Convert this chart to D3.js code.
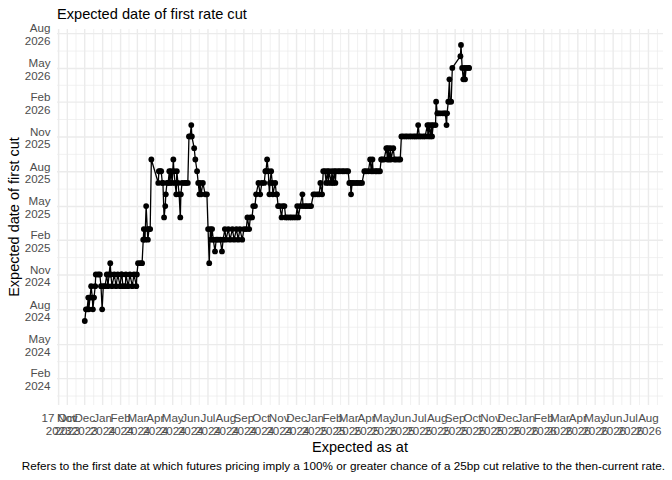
<!DOCTYPE html>
<html><head><meta charset="utf-8">
<script src="https://cdn.jsdelivr.net/npm/d3@7"></script>
<style>
body{margin:0;background:#fff}
svg{display:block}
text{font-family:"Liberation Sans",Arial,Helvetica,sans-serif}
</style>
</head><body>
<svg id="chart" width="672" height="480"></svg>
<script>
// ---- data ----
const asAt = [
"2023-12-02","2023-12-04","2023-12-06","2023-12-08","2023-12-09","2023-12-11","2023-12-13","2023-12-15","2023-12-16","2023-12-18",
"2023-12-20","2023-12-21","2023-12-25","2023-12-28","2023-12-30","2024-01-01","2024-01-03","2024-01-06","2024-01-09","2024-01-11",
"2024-01-13","2024-01-15","2024-01-16","2024-01-18","2024-01-22","2024-01-25","2024-01-28","2024-02-01","2024-02-03","2024-02-04",
"2024-02-06","2024-02-10","2024-02-11","2024-02-15","2024-02-18","2024-02-22","2024-02-25","2024-02-29","2024-03-01","2024-03-03",
"2024-03-07","2024-03-10","2024-03-12","2024-03-13","2024-03-15","2024-03-17","2024-03-19","2024-03-20","2024-03-22","2024-03-24",
"2024-03-26","2024-04-07","2024-04-08","2024-04-10","2024-04-12","2024-04-14","2024-04-15","2024-04-17","2024-04-19","2024-04-20",
"2024-04-22","2024-04-24","2024-04-26","2024-04-27","2024-04-29","2024-05-01","2024-05-03","2024-05-04","2024-05-06","2024-05-08",
"2024-05-09","2024-05-11","2024-05-13","2024-05-15","2024-05-16","2024-05-18","2024-05-22","2024-05-25","2024-05-28","2024-05-30",
"2024-06-01","2024-06-03","2024-06-04","2024-06-08","2024-06-10","2024-06-13","2024-06-15","2024-06-17","2024-06-18","2024-06-20",
"2024-06-23","2024-06-27","2024-06-30","2024-07-02","2024-07-04","2024-07-06","2024-07-07","2024-07-09","2024-07-11","2024-07-14",
"2024-07-16","2024-07-19","2024-07-23","2024-07-26","2024-07-28","2024-07-31","2024-08-02","2024-08-06","2024-08-09","2024-08-13",
"2024-08-16","2024-08-20","2024-08-23","2024-08-26","2024-08-30","2024-09-02","2024-09-06","2024-09-08","2024-09-11","2024-09-13",
"2024-09-16","2024-09-18","2024-09-21","2024-09-23","2024-09-27","2024-09-30","2024-10-03","2024-10-07","2024-10-09","2024-10-10",
"2024-10-12","2024-10-14","2024-10-16","2024-10-17","2024-10-19","2024-10-21","2024-10-22","2024-10-26","2024-10-28","2024-10-29",
"2024-10-31","2024-11-03","2024-11-06","2024-11-08","2024-11-11","2024-11-13","2024-11-16","2024-11-20","2024-11-23","2024-11-27",
"2024-12-01","2024-12-03","2024-12-05","2024-12-08","2024-12-12","2024-12-13","2024-12-17","2024-12-20","2024-12-24","2024-12-27",
"2024-12-31","2025-01-03","2025-01-07","2025-01-10","2025-01-12","2025-01-15","2025-01-17","2025-01-20","2025-01-22","2025-01-24",
"2025-01-26","2025-01-27","2025-01-31","2025-02-01","2025-02-03","2025-02-05","2025-02-07","2025-02-08","2025-02-12","2025-02-15",
"2025-02-19","2025-02-22","2025-02-26","2025-03-01","2025-03-03","2025-03-05","2025-03-06","2025-03-08","2025-03-11","2025-03-15",
"2025-03-18","2025-03-22","2025-03-25","2025-03-29","2025-04-01","2025-04-05","2025-04-08","2025-04-10","2025-04-12","2025-04-13",
"2025-04-17","2025-04-19","2025-04-22","2025-04-25","2025-04-27","2025-04-29","2025-05-02","2025-05-06","2025-05-08","2025-05-09",
"2025-05-11","2025-05-13","2025-05-14","2025-05-18","2025-05-20","2025-05-23","2025-05-27","2025-05-30","2025-06-01","2025-06-04",
"2025-06-08","2025-06-11","2025-06-15","2025-06-18","2025-06-22","2025-06-25","2025-06-28","2025-06-30","2025-07-02","2025-07-05",
"2025-07-09","2025-07-12","2025-07-16","2025-07-17","2025-07-19","2025-07-21","2025-07-23","2025-07-24","2025-07-26","2025-07-30",
"2025-07-31","2025-08-02","2025-08-04","2025-08-07","2025-08-11","2025-08-14","2025-08-16","2025-08-18","2025-08-19","2025-08-21",
"2025-08-23","2025-08-24","2025-08-26","2025-08-28","2025-09-11","2025-09-12","2025-09-14","2025-09-16","2025-09-18","2025-09-19",
"2025-09-21","2025-09-25","2025-09-26"
];
const expectedCut = [
"2024-07","2024-08","2024-08","2024-09","2024-08","2024-09","2024-10","2024-09","2024-08","2024-09",
"2024-10","2024-11","2024-11","2024-11","2024-10","2024-08","2024-10","2024-10","2024-11","2024-10",
"2024-11","2024-12","2024-11","2024-10","2024-11","2024-10","2024-11","2024-10","2024-11","2024-11",
"2024-10","2024-10","2024-11","2024-10","2024-11","2024-10","2024-11","2024-10","2024-11","2024-12",
"2024-12","2024-12","2025-02","2025-03","2025-02","2025-05","2025-03","2025-02","2025-03","2025-03",
"2025-09","2025-07","2025-08","2025-08","2025-08","2025-07","2025-07","2025-04","2025-05","2025-06",
"2025-07","2025-07","2025-08","2025-07","2025-08","2025-07","2025-09","2025-08","2025-07","2025-06",
"2025-08","2025-07","2025-06","2025-04","2025-06","2025-07","2025-07","2025-07","2025-07","2025-11",
"2025-11","2025-12","2025-11","2025-10","2025-09","2025-08","2025-07","2025-06","2025-07","2025-06",
"2025-07","2025-06","2025-06","2025-03","2024-12","2025-03","2025-02","2025-03","2025-02","2025-01",
"2025-02","2025-02","2025-02","2025-01","2025-02","2025-03","2025-02","2025-03","2025-02","2025-03",
"2025-02","2025-03","2025-02","2025-03","2025-02","2025-03","2025-03","2025-04","2025-03","2025-04",
"2025-04","2025-05","2025-05","2025-06","2025-07","2025-06","2025-07","2025-07","2025-08","2025-08",
"2025-09","2025-08","2025-06","2025-07","2025-08","2025-07","2025-06","2025-07","2025-06","2025-06",
"2025-05","2025-05","2025-04","2025-05","2025-05","2025-04","2025-04","2025-04","2025-04","2025-04",
"2025-04","2025-05","2025-04","2025-05","2025-06","2025-05","2025-05","2025-05","2025-05","2025-05",
"2025-06","2025-06","2025-06","2025-06","2025-07","2025-06","2025-08","2025-08","2025-07","2025-08",
"2025-07","2025-08","2025-07","2025-08","2025-07","2025-08","2025-07","2025-08","2025-08","2025-08",
"2025-08","2025-08","2025-08","2025-08","2025-07","2025-07","2025-06","2025-07","2025-07","2025-07",
"2025-07","2025-07","2025-07","2025-08","2025-08","2025-08","2025-09","2025-08","2025-09","2025-08",
"2025-08","2025-08","2025-08","2025-08","2025-09","2025-09","2025-09","2025-10","2025-09","2025-10",
"2025-09","2025-10","2025-09","2025-10","2025-09","2025-09","2025-09","2025-09","2025-11","2025-11",
"2025-11","2025-11","2025-11","2025-11","2025-11","2025-11","2025-11","2025-12","2025-11","2025-11",
"2025-11","2025-11","2025-12","2025-11","2025-12","2025-11","2025-12","2025-11","2025-12","2025-12",
"2026-02","2026-01","2026-01","2026-01","2026-01","2026-01","2026-01","2025-12","2026-01","2026-02",
"2026-04","2026-02","2026-02","2026-05","2026-06","2026-07","2026-05","2026-04","2026-05","2026-04",
"2026-05","2026-05","2026-05"
];
// axis tick values
const xTickDates = ["2023-10-17",
"2023-11-01","2023-12-01","2024-01-01","2024-02-01","2024-03-01","2024-04-01","2024-05-01","2024-06-01","2024-07-01","2024-08-01",
"2024-09-01","2024-10-01","2024-11-01","2024-12-01","2025-01-01","2025-02-01","2025-03-01","2025-04-01","2025-05-01","2025-06-01",
"2025-07-01","2025-08-01","2025-09-01","2025-10-01","2025-11-01","2025-12-01","2026-01-01","2026-02-01","2026-03-01","2026-04-01",
"2026-05-01","2026-06-01","2026-07-01","2026-08-01"];
const xTickLabels = ["17 Oct\n2023"].concat(xTickDates.slice(1).map(s => d3.utcFormat("%b\n%Y")(d3.utcParse("%Y-%m-%d")(s))));
const yTickMonths = ["2024-02","2024-05","2024-08","2024-11","2025-02","2025-05","2025-08","2025-11","2026-02","2026-05","2026-08"];
const yTickLabels = ["Feb\n2024","May\n2024","Aug\n2024","Nov\n2024","Feb\n2025","May\n2025","Aug\n2025","Nov\n2025","Feb\n2026","May\n2026","Aug\n2026"];

const titleText = "Expected date of first rate cut";
const xTitle = "Expected as at";
const yTitle = "Expected date of first cut";
const captionText = "Refers to the first date at which futures pricing imply a 100% or greater chance of a 25bp cut relative to the then-current rate.";

// ---- layout ----
const W = 672, H = 480;
const P = {left: 57, right: 663, top: 29, bottom: 405};
const pDay = d3.utcParse("%Y-%m-%d");
const pMon = d3.utcParse("%Y-%m");

const data = asAt.map((d, i) => ({x: pDay(d), y: pMon(expectedCut[i])}));

const x = d3.scaleUtc().domain([pDay("2023-10-15"), pDay("2026-08-27")]).range([P.left, P.right]);
const y = d3.scaleUtc().domain([pDay("2023-11-22"), pDay("2026-08-12")]).range([P.bottom, P.top]);

const svg = d3.select("#chart");
svg.append("rect").attr("width", W).attr("height", H).attr("fill", "#fff");

// minor breaks = midpoints between consecutive (monthly / quarterly) majors
const xMonthly = xTickDates.slice(1).map(pDay);
const xMinor = [];
const monthsExt = [pDay("2023-10-01")].concat(xMonthly, [pDay("2026-09-01")]);
for (let i = 0; i < monthsExt.length - 1; i++) xMinor.push(new Date((+monthsExt[i] + +monthsExt[i + 1]) / 2));
const yMajor = yTickMonths.map(pMon);
const yExt = [pMon("2023-11")].concat(yMajor, [pMon("2026-11")]);
const yMinor = [];
for (let i = 0; i < yExt.length - 1; i++) yMinor.push(new Date((+yExt[i] + +yExt[i + 1]) / 2));

const inX = d => x(d) >= P.left - 0.1 && x(d) <= P.right + 0.1;
const inY = d => y(d) >= P.top - 0.1 && y(d) <= P.bottom + 0.1;

function grid(g, kind, values, width) {
  const axis = kind === "x"
    ? d3.axisBottom(x).tickValues(values.filter(inX)).tickSize(-(P.bottom - P.top)).tickFormat("")
    : d3.axisLeft(y).tickValues(values.filter(inY)).tickSize(-(P.right - P.left)).tickFormat("");
  g.call(axis);
  g.select(".domain").remove();
  g.selectAll(".tick line").attr("stroke", "#EBEBEB").attr("stroke-width", width);
}
grid(svg.append("g").attr("transform", `translate(0,${P.bottom})`), "x", xMinor, 0.7);
grid(svg.append("g").attr("transform", `translate(${P.left},0)`), "y", yMinor, 0.7);
grid(svg.append("g").attr("transform", `translate(0,${P.bottom})`), "x", xTickDates.map(pDay), 1.4);
grid(svg.append("g").attr("transform", `translate(${P.left},0)`), "y", yMajor, 1.4);

// ---- axes labels ----
const tickFont = 11.6, lineGap = 12.6;
const gx = svg.append("g").attr("transform", `translate(0,${P.bottom})`)
  .call(d3.axisBottom(x).tickValues(xTickDates.map(pDay)).tickSize(0).tickFormat(""));
gx.select(".domain").remove();
gx.selectAll(".tick").each(function(d, i) {
  const parts = xTickLabels[i].split("\n");
  const t = d3.select(this).append("text").attr("text-anchor", "middle")
    .attr("fill", "#4D4D4D").attr("font-size", tickFont);
  parts.forEach((p, k) => t.append("tspan").attr("x", 0).attr("y", 17 + k * lineGap).text(p));
});
const gy = svg.append("g").attr("transform", `translate(50.5,0)`)
  .call(d3.axisLeft(y).tickValues(yMajor).tickSize(0).tickFormat(""));
gy.select(".domain").remove();
gy.selectAll(".tick").each(function(d, i) {
  const parts = yTickLabels[i].split("\n");
  const t = d3.select(this).append("text").attr("text-anchor", "end")
    .attr("fill", "#4D4D4D").attr("font-size", tickFont);
  parts.forEach((p, k) => t.append("tspan").attr("x", 0).attr("y", -1.2 + k * lineGap).text(p));
});

// ---- series ----
const plot = svg.append("g");
plot.append("path").datum(data)
  .attr("fill", "none").attr("stroke", "#000").attr("stroke-width", 1.3).attr("stroke-linejoin", "round")
  .attr("d", d3.line().x(d => x(d.x)).y(d => y(d.y)));
plot.selectAll("circle").data(data).join("circle")
  .attr("cx", d => x(d.x)).attr("cy", d => y(d.y)).attr("r", 2.9).attr("fill", "#000");

// ---- titles ----
svg.append("text").attr("x", P.left).attr("y", 18.5).attr("font-size", 14.6).attr("fill", "#000").text(titleText);
svg.append("text").attr("x", (P.left + P.right) / 2).attr("y", 452).attr("text-anchor", "middle")
  .attr("font-size", 14.5).attr("fill", "#000").text(xTitle);
svg.append("text").attr("transform", `translate(18.5,${(P.top + P.bottom) / 2}) rotate(-90)`).attr("text-anchor", "middle")
  .attr("font-size", 14.5).attr("fill", "#000").text(yTitle);
svg.append("text").attr("x", 665).attr("y", 470).attr("text-anchor", "end")
  .attr("font-size", 11.7).attr("fill", "#000").text(captionText);
</script>
</body></html>
